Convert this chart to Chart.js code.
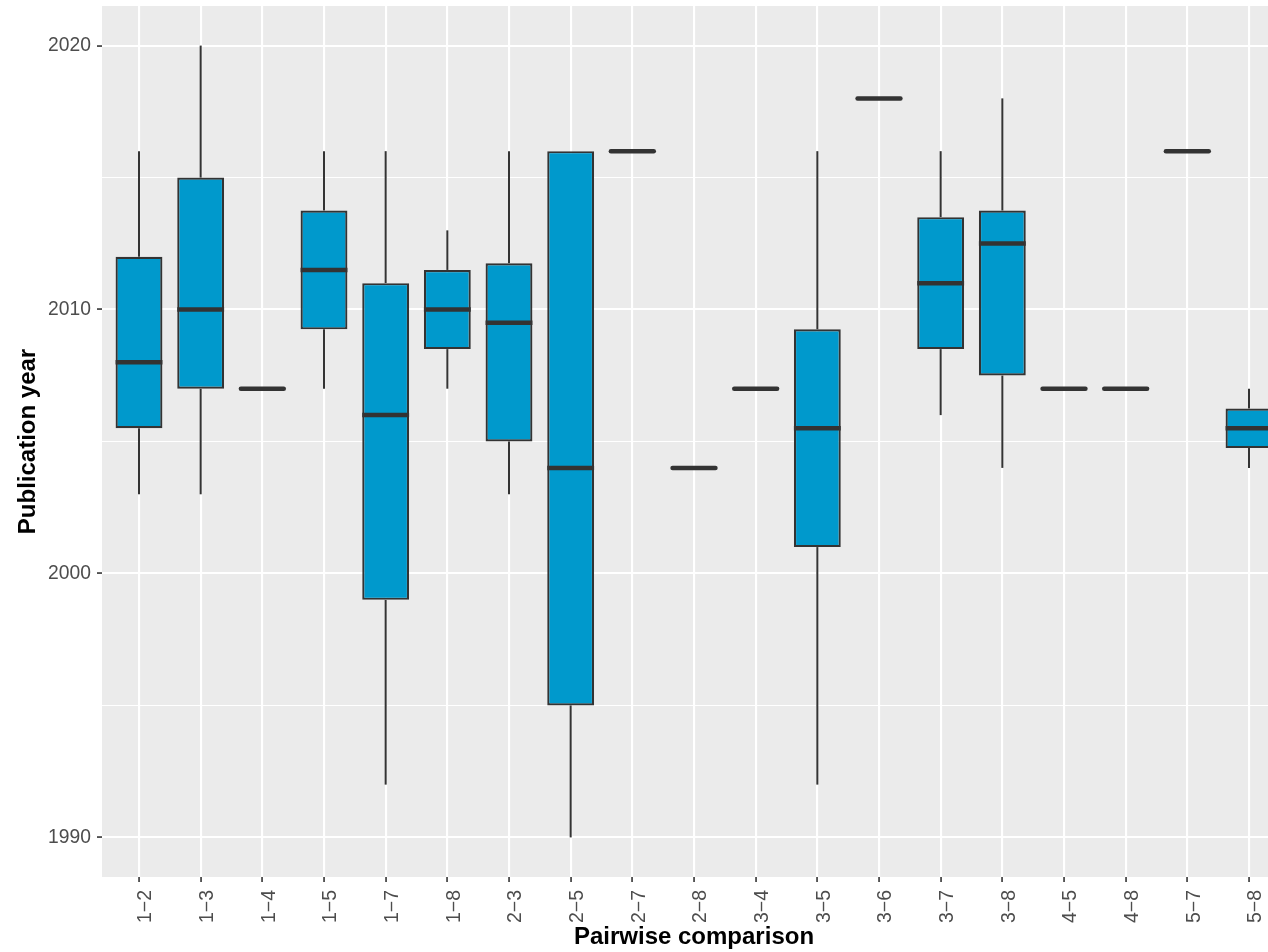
<!DOCTYPE html>
<html>
<head>
<meta charset="utf-8">
<script src="https://cdn.jsdelivr.net/npm/chart.js@4"></script>
<style>
  html, body { margin: 0; padding: 0; background: #fff; overflow: hidden; width: 1268px; height: 952px; }
  #wrap { width: 1293px; height: 952px; position: relative; }
</style>
</head>
<body>
<div id="wrap"><canvas id="boxChart"></canvas></div>
<script>
const categories = ['1−2', '1−3', '1−4', '1−5', '1−7', '1−8', '2−3', '2−5', '2−7', '2−8',
                    '3−4', '3−5', '3−6', '3−7', '3−8', '4−5', '4−8', '5−7', '5−8'];
const whiskerLow  = [2003, 2003, 2007, 2007, 1992, 2007, 2003, 1990, 2016, 2004, 2007, 1992, 2018, 2006, 2004, 2007, 2007, 2016, 2004];
const q1          = [2005.5, 2007, 2007, 2009.25, 1999, 2008.5, 2005, 1995, 2016, 2004, 2007, 2001, 2018, 2008.5, 2007.5, 2007, 2007, 2016, 2004.75];
const median      = [2008, 2010, 2007, 2011.5, 2006, 2010, 2009.5, 2004, 2016, 2004, 2007, 2005.5, 2018, 2011, 2012.5, 2007, 2007, 2016, 2005.5];
const q3          = [2012, 2015, 2007, 2013.75, 2011, 2011.5, 2011.75, 2016, 2016, 2004, 2007, 2009.25, 2018, 2013.5, 2013.75, 2007, 2007, 2016, 2006.25];
const whiskerHigh = [2016, 2020, 2007, 2016, 2016, 2013, 2016, 2016, 2016, 2004, 2007, 2016, 2018, 2016, 2018, 2007, 2007, 2016, 2007];
const yTicks = [1990, 1995, 2000, 2005, 2010, 2015, 2020];

const fontFamily = '"Liberation Sans", Arial, Helvetica, sans-serif';
const isMajor = v => v % 10 === 0;

// grey panel behind the grid, like ggplot
const panelBg = {
  id: 'panelBg',
  beforeDraw(chart) {
    const { ctx, chartArea: a } = chart;
    ctx.save();
    ctx.fillStyle = '#ebebeb';
    ctx.fillRect(a.left, a.top, a.right - a.left, a.bottom - a.top);
    ctx.restore();
  }
};

// whiskers and median lines on top of the floating bars
const boxLines = {
  id: 'boxLines',
  afterDatasetsDraw(chart) {
    const { ctx } = chart;
    const xs = chart.scales.x, ys = chart.scales.y;
    const bars = chart.getDatasetMeta(0).data;
    ctx.save();
    ctx.strokeStyle = '#333333';
    categories.forEach((c, i) => {
      const x = xs.getPixelForValue(i);
      const half = bars[i].width / 2;
      ctx.lineWidth = 2;
      ctx.lineCap = 'butt';
      if (whiskerHigh[i] > q3[i]) {
        ctx.beginPath();
        ctx.moveTo(x, ys.getPixelForValue(whiskerHigh[i]));
        ctx.lineTo(x, ys.getPixelForValue(q3[i]));
        ctx.stroke();
      }
      if (whiskerLow[i] < q1[i]) {
        ctx.beginPath();
        ctx.moveTo(x, ys.getPixelForValue(q1[i]));
        ctx.lineTo(x, ys.getPixelForValue(whiskerLow[i]));
        ctx.stroke();
      }
      const flat = q1[i] === q3[i];
      ctx.lineWidth = 4.5;
      ctx.lineCap = flat ? 'round' : 'butt';
      const ym = ys.getPixelForValue(median[i]);
      ctx.beginPath();
      ctx.moveTo(x - half + (flat ? 2 : 0), ym);
      ctx.lineTo(x + half - (flat ? 2 : 0), ym);
      ctx.stroke();
    });
    ctx.restore();
  }
};

new Chart(document.getElementById('boxChart'), {
  type: 'bar',
  data: {
    datasets: [{
      data: categories.map((c, i) => ({ x: i, y: [q1[i], q3[i]] })),
      backgroundColor: '#0099cc',
      borderColor: '#333333',
      borderWidth: 2.2,
      borderSkipped: false,
      barPercentage: 0.76,
      categoryPercentage: 1
    }]
  },
  options: {
    responsive: true,
    maintainAspectRatio: false,
    animation: false,
    layout: { padding: { top: 6, right: 7, left: 0, bottom: 0 } },
    plugins: { legend: { display: false }, tooltip: { enabled: false } },
    scales: {
      x: {
        type: 'linear',
        offset: false,
        min: -0.6,
        max: categories.length - 1 + 0.6,
        afterBuildTicks: s => { s.ticks = categories.map((c, i) => ({ value: i })); },
        afterFit: s => { s.height = 75; s.paddingLeft = 0; s.paddingRight = 0; },
        ticks: {
          callback: v => categories[v],
          autoSkip: false,
          minRotation: 90,
          maxRotation: 90,
          labelOffset: 7,
          color: '#4d4d4d',
          padding: 8,
          font: { family: fontFamily, size: 19.5 }
        },
        grid: { offset: false, color: '#ffffff', lineWidth: 2.1, tickColor: '#333333', tickLength: 5, tickWidth: 1.6 },
        border: { display: false },
        title: {
          display: true,
          text: 'Pairwise comparison',
          color: '#000000',
          padding: { top: 0, bottom: 0 },
          font: { family: fontFamily, size: 24, weight: 'bold' }
        }
      },
      y: {
        type: 'linear',
        min: 1988.5,
        max: 2021.5,
        afterBuildTicks: s => { s.ticks = yTicks.map(v => ({ value: v })); },
        afterFit: s => { s.width = 102; s.paddingTop = 0; s.paddingBottom = 0; },
        ticks: {
          callback: v => isMajor(v) ? String(v) : '',
          color: '#4d4d4d',
          padding: 6,
          font: { family: fontFamily, size: 19.3 }
        },
        grid: {
          color: '#ffffff',
          lineWidth: c => (c.tick && isMajor(c.tick.value)) ? 2.1 : 1.05,
          tickColor: c => (c.tick && isMajor(c.tick.value)) ? '#333333' : 'rgba(0,0,0,0)',
          tickLength: 5,
          tickWidth: 1.6
        },
        border: { display: false },
        title: {
          display: true,
          text: 'Publication year',
          color: '#000000',
          padding: { top: 14, bottom: 0 },
          font: { family: fontFamily, size: 24, weight: 'bold' }
        }
      }
    }
  },
  plugins: [panelBg, boxLines]
});
</script>
</body>
</html>
